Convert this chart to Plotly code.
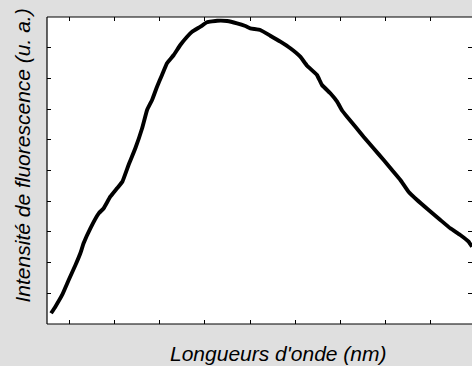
import plotly.graph_objects as go

wavelength_nm = [411.9, 413.8, 416.8, 419.7, 422.7, 424.9, 426.3, 429.3, 433.0, 435.2,
                 438.1, 441.1, 443.5, 446.2, 449.2, 452.2, 454.4, 456.6, 458.8, 461.0,
                 463.2, 466.2, 469.1, 472.1, 474.3, 478.0, 480.9, 485.4, 489.8, 494.2,
                 497.9, 500.1, 504.5, 508.9, 513.4, 517.8, 522.2, 525.2, 529.6, 531.8,
                 535.5, 538.5, 540.7, 542.9, 546.6, 550.2, 554.6, 559.1, 562.8, 566.5,
                 570.1, 573.9, 579.0, 584.2, 588.6, 593.0, 596.7, 598.2]
intensity = [0.349, 0.564, 0.945, 1.433, 1.922, 2.313, 2.629, 3.117, 3.606, 3.769,
             4.147, 4.420, 4.642, 5.179, 5.723, 6.375, 6.971, 7.296, 7.730, 8.111,
             8.492, 8.762, 9.088, 9.358, 9.521, 9.684, 9.827, 9.879, 9.870, 9.795,
             9.707, 9.632, 9.577, 9.391, 9.195, 8.980, 8.707, 8.414, 8.111, 7.785,
             7.515, 7.241, 6.954, 6.752, 6.427, 6.101, 5.723, 5.342, 5.016, 4.691,
             4.309, 4.039, 3.713, 3.388, 3.117, 2.899, 2.681, 2.518]

x_title = "Longueurs d'onde (nm)"
y_title = "Intensité de fluorescence (u. a.)"

fig = go.Figure()
fig.add_trace(go.Scatter(x=wavelength_nm, y=intensity, mode="lines",
                         line=dict(color="black", width=3.9, shape="spline", smoothing=0.3),
                         showlegend=False))

axis_common = dict(showline=False, mirror="ticks",
                   ticks="inside", ticklen=4, tickcolor="black", tickwidth=1,
                   showticklabels=False, showgrid=False, zeroline=False)

fig.update_xaxes(range=[410.1, 598.2], tick0=420, dtick=20, **axis_common)
fig.update_yaxes(range=[0, 10], tick0=0, dtick=1, **axis_common)

# frame: left, bottom and top edges (right edge falls outside the picture)
for x0, y0, x1, y1 in [(0, 0, 0, 1), (0, 0, 1, 0), (0, 1, 1, 1)]:
    fig.add_shape(type="line", xref="paper", yref="paper", x0=x0, y0=y0, x1=x1, y1=y1,
                  line=dict(color="black", width=1.2))

font = dict(family="Liberation Sans, Arial, sans-serif", size=21, color="black")
fig.add_annotation(text="<i>" + x_title + "</i>", xref="paper", yref="paper",
                   x=0.5424, y=-0.0977, xanchor="center", yanchor="middle",
                   showarrow=False, font=font)
fig.add_annotation(text="<i>" + y_title + "</i>", xref="paper", yref="paper",
                   x=0, xshift=-25, y=0.5489, xanchor="center", yanchor="middle",
                   textangle=-90, showarrow=False, font=font)

fig.update_layout(width=472, height=366,
                  margin=dict(l=47, r=0, t=17, b=42, pad=0),
                  paper_bgcolor="#dfdfdf", plot_bgcolor="white")

fig.write_html("out.html")
